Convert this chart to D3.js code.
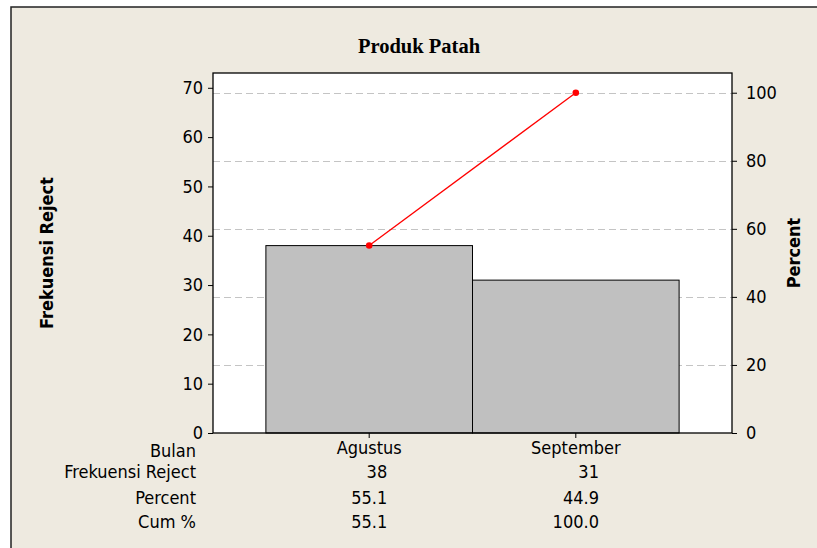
<!DOCTYPE html>
<html>
<head>
  <title>Produk Patah</title>
  <script src="https://d3js.org/d3.v7.min.js"></script>
  <style>
    body { margin: 0; background: #fff; }
    text { font-family: Tahoma, "DejaVu Sans Condensed", "DejaVu Sans", sans-serif; font-stretch: condensed; font-size: 18px; fill: #000; }
  </style>
</head>
<body>
  <div id="chart"></div>
  <script>
    // data
    const months = ["Agustus", "September"];
    const counts = [38, 31];
    const percents = ["55.1", "44.9"];
    const cumPercents = [55.1, 100.0];
    const yTicks = [0, 10, 20, 30, 40, 50, 60, 70];
    const pctTicks = [0, 20, 40, 60, 80, 100];
    const rowLabels = ["Bulan", "Frekuensi Reject", "Percent", "Cum %"];

    const width = 817, height = 548;
    const margin = { top: 73, right: 85, bottom: 115, left: 213 };
    const total = d3.sum(counts);
    const yMax = 73;

    const svg = d3.select("#chart").append("svg")
      .attr("width", width)
      .attr("height", height);

    // beige frame
    svg.append("rect")
      .attr("x", 11).attr("y", 7)
      .attr("width", width + 10).attr("height", height + 10)
      .attr("fill", "#eeeae0")
      .attr("stroke", "#222")
      .attr("stroke-width", 1.5);

    const x = d3.scaleBand()
      .domain(months)
      .range([margin.left, width - margin.right])
      .paddingInner(0)
      .paddingOuter(0.256);

    const y = d3.scaleLinear()
      .domain([0, yMax])
      .range([height - margin.bottom, margin.top]);

    const yPct = d3.scaleLinear()
      .domain([0, yMax / total * 100])
      .range([height - margin.bottom, margin.top]);

    // plot area
    svg.append("rect")
      .attr("x", margin.left).attr("y", margin.top)
      .attr("width", width - margin.left - margin.right)
      .attr("height", height - margin.top - margin.bottom)
      .attr("fill", "#fff");

    // dashed gridlines on percent ticks
    svg.append("g")
      .selectAll("line")
      .data(pctTicks.filter(d => d > 0))
      .join("line")
      .attr("x1", margin.left).attr("x2", width - margin.right)
      .attr("y1", d => Math.round(yPct(d)) + 0.5)
      .attr("y2", d => Math.round(yPct(d)) + 0.5)
      .attr("stroke", "#c4c4c4")
      .attr("stroke-dasharray", "7,4");

    // bars
    svg.append("g")
      .selectAll("rect")
      .data(counts)
      .join("rect")
      .attr("x", (d, i) => x(months[i]))
      .attr("y", d => y(d))
      .attr("width", x.bandwidth())
      .attr("height", d => y(0) - y(d))
      .attr("fill", "#c0c0c0")
      .attr("stroke", "#000")
      .attr("stroke-width", 1);

    // cumulative line
    const cumLine = d3.line()
      .x((d, i) => x(months[i]) + x.bandwidth() / 2)
      .y(d => yPct(d));

    svg.append("path")
      .datum(cumPercents)
      .attr("d", cumLine)
      .attr("fill", "none")
      .attr("stroke", "#ff0000")
      .attr("stroke-width", 1.3);

    svg.append("g")
      .selectAll("circle")
      .data(cumPercents)
      .join("circle")
      .attr("cx", (d, i) => x(months[i]) + x.bandwidth() / 2)
      .attr("cy", d => yPct(d))
      .attr("r", 3.3)
      .attr("fill", "#ff0000");

    // plot frame
    svg.append("rect")
      .attr("x", margin.left).attr("y", margin.top)
      .attr("width", width - margin.left - margin.right)
      .attr("height", height - margin.top - margin.bottom)
      .attr("fill", "none")
      .attr("stroke", "#000")
      .attr("stroke-width", 1.3);

    // axes
    const leftAxis = svg.append("g")
      .attr("transform", `translate(${margin.left},0)`)
      .call(d3.axisLeft(y).tickValues(yTicks).tickSize(5).tickPadding(5));

    const rightAxis = svg.append("g")
      .attr("transform", `translate(${width - margin.right},0)`)
      .call(d3.axisRight(yPct).tickValues(pctTicks).tickSize(5).tickPadding(9));

    const bottomAxis = svg.append("g")
      .attr("transform", `translate(0,${height - margin.bottom})`)
      .call(d3.axisBottom(x).tickSize(5).tickPadding(3).tickSizeOuter(0));

    [leftAxis, rightAxis, bottomAxis].forEach(g => {
      g.select(".domain").remove();
      g.selectAll("line").attr("stroke", "#000");
      g.selectAll("text").attr("font-size", null).attr("font-family", null);
    });
    leftAxis.attr("font-size", null).attr("font-family", null);
    rightAxis.attr("font-size", null).attr("font-family", null);
    bottomAxis.attr("font-size", null).attr("font-family", null);

    // table below the axis
    const rowBaselines = [457, 478, 504, 528];
    svg.append("g")
      .selectAll("text")
      .data(rowLabels)
      .join("text")
      .attr("x", 196)
      .attr("y", (d, i) => rowBaselines[i])
      .attr("text-anchor", "end")
      .text(d => d);

    months.forEach((m, i) => {
      const cells = [String(counts[i]), percents[i], cumPercents[i].toFixed(1)];
      const col = svg.append("g");
      const texts = col.selectAll("text")
        .data(cells)
        .join("text")
        .attr("y", (d, j) => rowBaselines[j + 1])
        .attr("text-anchor", "end")
        .text(d => d);
      let w = 0;
      texts.each(function () { w = Math.max(w, this.getComputedTextLength()); });
      texts.attr("x", x(m) + x.bandwidth() / 2 + w / 2);
    });

    // title and axis titles
    svg.append("text")
      .attr("x", 419).attr("y", 53)
      .attr("text-anchor", "middle")
      .style("font-family", "'Liberation Serif', 'Times New Roman', serif")
      .style("font-stretch", "normal")
      .style("font-weight", "bold")
      .style("font-size", "20.5px")
      .text("Produk Patah");

    svg.append("text")
      .attr("transform", `translate(53,${(margin.top + height - margin.bottom) / 2}) rotate(-90)`)
      .attr("text-anchor", "middle")
      .style("font-weight", "bold")
      .text("Frekuensi Reject");

    svg.append("text")
      .attr("transform", `translate(800,${(margin.top + height - margin.bottom) / 2}) rotate(-90)`)
      .attr("text-anchor", "middle")
      .style("font-weight", "bold")
      .text("Percent");
  </script>
</body>
</html>
